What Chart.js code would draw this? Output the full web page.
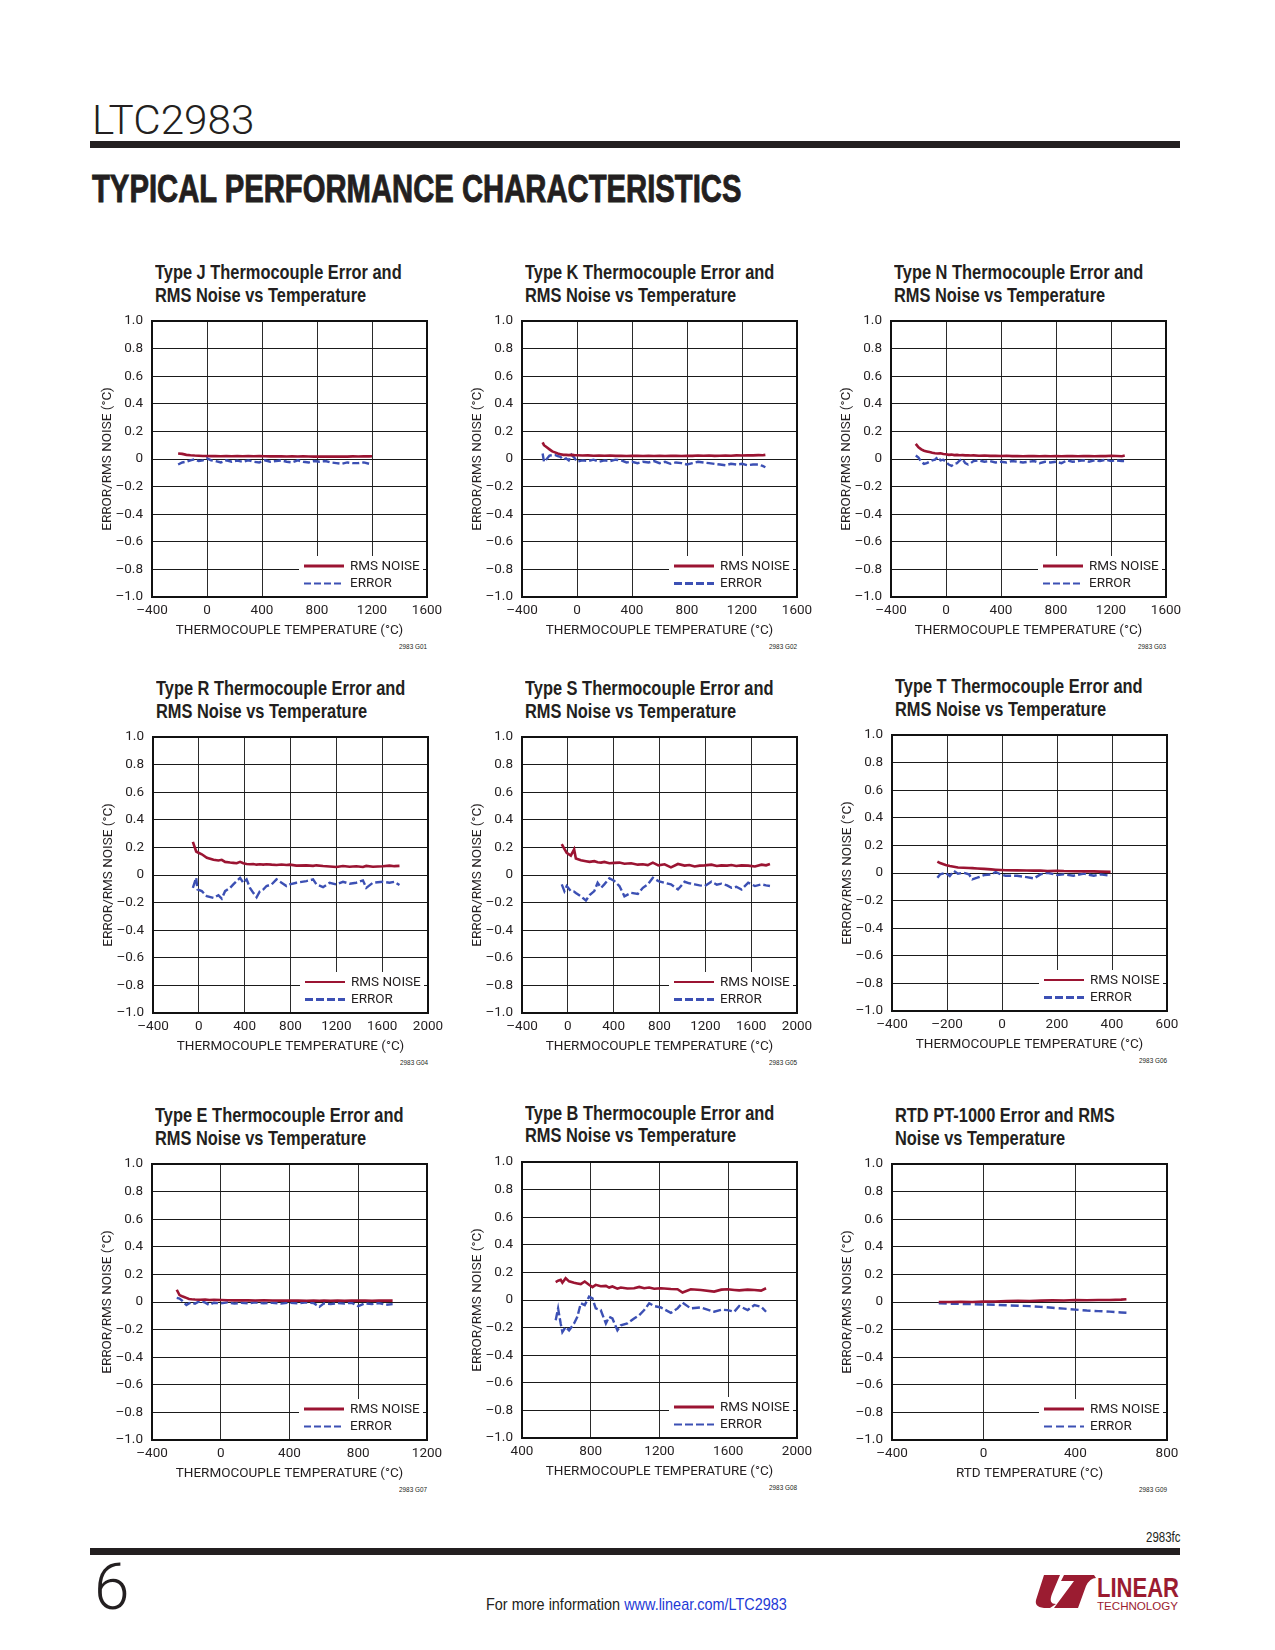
<!DOCTYPE html>
<html>
<head>
<meta charset="utf-8">
<script src="https://cdn.jsdelivr.net/npm/chart.js@4.4.1/dist/chart.umd.min.js"></script>
<style>
  body { margin: 0; background: #fff; }
  #page {
    position: relative; width: 1275px; height: 1650px; overflow: hidden;
    font-family: "Liberation Sans", Arial, sans-serif;
    color: #231f20;
  }
  .abs { position: absolute; white-space: nowrap; transform-origin: 0 0; }
  .ttl { font-weight: bold; font-size: 20px; line-height: 22.4px; transform: scaleX(0.82); }
  .fig { font-size: 7.5px; line-height: 8px; transform: scaleX(0.85); }
  canvas { position: absolute; }
</style>
</head>
<body>
<div id="page">
  <div class="abs" style="left:92px;top:100px;font-family:Roboto,'Liberation Sans',sans-serif;font-weight:300;font-size:41px;line-height:41px;transform:scaleX(1.03);">LTC2983</div>
  <div class="abs" style="left:90px;top:141px;width:1090px;height:7px;background:#231f20;"></div>
  <div class="abs" style="left:92px;top:169px;font-size:39px;line-height:39px;font-weight:bold;-webkit-text-stroke:0.9px #231f20;transform:scaleX(0.75);">TYPICAL PERFORMANCE CHARACTERISTICS</div>

  <div class="abs" style="left:1146px;top:1529px;font-size:14px;line-height:16px;transform:scaleX(0.82);">2983fc</div>
  <div class="abs" style="left:90px;top:1548px;width:1090px;height:7px;background:#231f20;"></div>
  <div class="abs" style="left:94px;top:1556px;font-family:Roboto,'Liberation Sans',sans-serif;font-weight:300;font-size:64px;line-height:64px;">6</div>
  <div class="abs" style="left:486px;top:1595px;font-size:17px;line-height:20px;transform:scaleX(0.85);">For more information <span style="color:#1f3ad6;">www.linear.com/LTC2983</span></div>
  <svg class="abs" style="left:1030px;top:1572px;" width="152" height="42" viewBox="0 0 152 42">
    <path d="M14 3 L30 3 L22 22 Q18 32 26 32 L20 36 Q4 37 6 28 Z" fill="#9b1c31"/>
    <path d="M24 36 L48 36 L56 14 Q60 6 66 6 L64 3 L34 3 L31 9 L44 9 Z" fill="#9b1c31"/>
    <text x="67" y="25" font-family="Liberation Sans, sans-serif" font-size="28" font-weight="bold" fill="#9b1c31" textLength="82" lengthAdjust="spacingAndGlyphs">LINEAR</text>
    <text x="67" y="38" font-family="Liberation Sans, sans-serif" font-size="11" fill="#9b1c31" textLength="81" lengthAdjust="spacingAndGlyphs">TECHNOLOGY</text>
  </svg>
</div>

<script>
// ---- shared tick labels ----
const yTickLabels = ['–1.0', '–0.8', '–0.6', '–0.4', '–0.2', '0', '0.2', '0.4', '0.6', '0.8', '1.0'];
const xTicksJKN = ['–400', '0', '400', '800', '1200', '1600'];
const xTicksRS  = ['–400', '0', '400', '800', '1200', '1600', '2000'];
const xTicksT   = ['–400', '–200', '0', '200', '400', '600'];
const xTicksE   = ['–400', '0', '400', '800', '1200'];
const xTicksB   = ['400', '800', '1200', '1600', '2000'];
const xTicksRTD = ['–400', '0', '400', '800'];

// ---- Type J ----
const tempJ  = [-210, -180, -150, -120, -90, -60, -30, 0, 30, 60, 100, 140, 180, 220, 260, 300, 340, 380, 420, 460,
                500, 540, 580, 620, 660, 700, 740, 780, 820, 860, 900, 940, 980, 1020, 1060, 1100, 1140, 1180, 1200];
const noiseJ = [0.04, 0.037, 0.03, 0.027, 0.025, 0.024, 0.022, 0.022, 0.021, 0.022, 0.02, 0.021, 0.02, 0.021, 0.02, 0.022, 0.02, 0.021, 0.02, 0.019,
                0.02, 0.019, 0.018, 0.019, 0.018, 0.019, 0.018, 0.017, 0.018, 0.017, 0.018, 0.017, 0.018, 0.017, 0.019, 0.018, 0.02, 0.019, 0.02];
const errorJ = [-0.04, -0.025, -0.02, -0.01, -0.002, -0.015, -0.01, 0.005, -0.01, -0.015, -0.025, -0.01, -0.02, -0.012, -0.02, -0.01, -0.02, -0.025, -0.01, -0.02,
                -0.015, -0.01, -0.02, -0.025, -0.01, -0.02, -0.025, -0.015, -0.02, -0.015, -0.025, -0.03, -0.035, -0.025, -0.03, -0.03, -0.025, -0.035, -0.035];

// ---- Type K ----
const tempK  = [-250, -240, -220, -200, -180, -160, -140, -120, -100, -80, -60, -40, -20, 0, 40, 80, 120, 160, 200, 240,
                280, 320, 360, 400, 440, 480, 520, 560, 600, 640, 680, 720, 760, 800, 840, 880, 920, 960, 1000, 1040,
                1080, 1120, 1160, 1200, 1240, 1280, 1320, 1350, 1370];
const noiseK = [0.12, 0.10, 0.085, 0.07, 0.055, 0.048, 0.04, 0.035, 0.03, 0.03, 0.028, 0.03, 0.028, 0.027, 0.025, 0.026, 0.024, 0.025, 0.024, 0.025,
                0.023, 0.024, 0.022, 0.023, 0.024, 0.022, 0.023, 0.022, 0.024, 0.022, 0.023, 0.024, 0.022, 0.024, 0.023, 0.025, 0.024, 0.025, 0.023, 0.024,
                0.025, 0.024, 0.026, 0.025, 0.027, 0.026, 0.028, 0.027, 0.03];
const errorK = [0.04, -0.02, 0.0, 0.025, 0.028, 0.03, 0.02, 0.015, -0.005, 0.005, -0.01, 0.03, 0.01, -0.02, -0.01, -0.015, -0.005, -0.02, -0.01, -0.015,
                -0.005, -0.01, -0.025, -0.02, -0.03, -0.02, -0.025, -0.015, -0.03, -0.02, -0.035, -0.025, -0.03, -0.04, -0.03, -0.02, -0.025, -0.03, -0.035, -0.04,
                -0.045, -0.035, -0.04, -0.035, -0.045, -0.04, -0.04, -0.05, -0.06];

// ---- Type N ----
const tempN  = [-220, -200, -180, -160, -140, -120, -100, -80, -60, -40, -20, 0, 20, 40, 60, 80, 100, 120, 140, 160,
                180, 200, 240, 280, 320, 360, 400, 440, 480, 520, 560, 600, 640, 680, 720, 760, 800, 840, 880, 920,
                960, 1000, 1040, 1080, 1120, 1160, 1200, 1240, 1280, 1300];
const noiseN = [0.11, 0.085, 0.07, 0.06, 0.055, 0.05, 0.045, 0.042, 0.04, 0.042, 0.036, 0.035, 0.03, 0.032, 0.028, 0.03, 0.027, 0.028, 0.026, 0.027,
                0.025, 0.026, 0.024, 0.025, 0.023, 0.024, 0.022, 0.023, 0.021, 0.022, 0.02, 0.022, 0.021, 0.02, 0.022, 0.02, 0.021, 0.02, 0.022, 0.021,
                0.02, 0.022, 0.021, 0.02, 0.022, 0.021, 0.023, 0.022, 0.02, 0.025];
const errorN = [0.025, 0.01, -0.02, -0.035, -0.03, -0.02, -0.01, -0.005, 0.015, -0.01, -0.005, -0.02, -0.04, -0.05, -0.035, -0.03, -0.01, 0.0, -0.03, -0.04,
                -0.03, -0.015, -0.01, -0.02, -0.015, -0.025, -0.02, -0.025, -0.015, -0.02, -0.025, -0.02, -0.015, -0.03, -0.02, -0.025, -0.02, -0.03, -0.01, -0.02,
                -0.015, -0.01, -0.02, -0.01, -0.015, -0.005, -0.015, -0.01, -0.015, -0.015];

// ---- Type R ----
const tempR  = [-52, -23, -12, 26, 70, 128, 171, 200, 229, 273, 301, 330, 360, 388, 417, 446, 475, 504, 533, 562,
                591, 635, 678, 722, 765, 794, 852, 939, 997, 1026, 1084, 1142, 1200, 1258, 1316, 1374, 1432, 1461, 1519, 1606,
                1664, 1707, 1751];
const noiseR = [0.24, 0.17, 0.165, 0.15, 0.125, 0.11, 0.105, 0.11, 0.095, 0.09, 0.088, 0.085, 0.095, 0.085, 0.08, 0.078, 0.08, 0.075, 0.078, 0.075,
                0.078, 0.075, 0.073, 0.076, 0.072, 0.075, 0.068, 0.07, 0.066, 0.07, 0.065, 0.062, 0.058, 0.065, 0.06, 0.063, 0.058, 0.066, 0.06, 0.063,
                0.068, 0.064, 0.066];
const errorR = [-0.093, -0.02, -0.105, -0.117, -0.154, -0.166, -0.146, -0.171, -0.117, -0.093, -0.068, -0.044, -0.02, -0.056, -0.032, -0.093, -0.129, -0.161, -0.117, -0.105,
                -0.08, -0.068, -0.032, -0.056, -0.08, -0.068, -0.056, -0.044, -0.032, -0.068, -0.088, -0.056, -0.068, -0.049, -0.063, -0.056, -0.039, -0.093, -0.056, -0.049,
                -0.056, -0.049, -0.073];

// ---- Type S ----
const tempS  = [-53, -30, -10, 26, 55, 70, 114, 158, 190, 231, 260, 290, 318, 362, 406, 450, 494, 552, 611, 655,
                698, 742, 790, 844, 900, 961, 1019, 1060, 1107, 1150, 1194, 1253, 1300, 1340, 1390, 1428, 1470, 1516, 1574, 1633,
                1691, 1730, 1764];
const noiseS = [0.224, 0.19, 0.16, 0.14, 0.185, 0.12, 0.107, 0.1, 0.095, 0.1, 0.092, 0.09, 0.095, 0.085, 0.088, 0.09, 0.082, 0.085, 0.075, 0.078,
                0.072, 0.09, 0.07, 0.078, 0.055, 0.08, 0.068, 0.072, 0.062, 0.068, 0.07, 0.075, 0.065, 0.07, 0.068, 0.072, 0.065, 0.07, 0.068, 0.062,
                0.075, 0.07, 0.08];
const errorS = [-0.068, -0.117, -0.08, -0.117, -0.12, -0.13, -0.154, -0.185, -0.146, -0.117, -0.056, -0.093, -0.068, -0.024, -0.044, -0.08, -0.154, -0.129, -0.137, -0.093,
                -0.068, -0.02, -0.044, -0.056, -0.068, -0.105, -0.049, -0.06, -0.068, -0.075, -0.08, -0.049, -0.07, -0.063, -0.075, -0.093, -0.085, -0.105, -0.056, -0.08,
                -0.068, -0.075, -0.08];

// ---- Type T ----
const tempT  = [-235, -225, -205, -190, -175, -160, -140, -120, -108, -90, -65, -40, -23, -5, 13, 55, 90, 116, 140, 165,
                200, 225, 260, 298, 334, 358, 395];
const noiseT = [0.083, 0.072, 0.058, 0.05, 0.045, 0.04, 0.038, 0.036, 0.035, 0.033, 0.03, 0.026, 0.024, 0.022, 0.02, 0.019, 0.018, 0.017, 0.018, 0.015,
                0.016, 0.014, 0.013, 0.012, 0.012, 0.01, 0.008];
const errorT = [-0.034, -0.01, 0.002, -0.022, 0.015, -0.005, 0.002, -0.01, -0.046, -0.034, -0.015, -0.01, 0.007, -0.01, -0.02, -0.02, -0.03, -0.039, -0.01, 0.002,
                -0.015, -0.01, -0.02, -0.005, -0.02, -0.01, -0.02];

// ---- Type E ----
const tempE  = [-256, -240, -225, -210, -200, -185, -170, -150, -120, -90, -66, -40, 0, 40, 80, 120, 160, 200, 250, 300,
                350, 400, 450, 500, 540, 574, 600, 640, 680, 720, 760, 800, 840, 880, 920, 960, 1000];
const noiseE = [0.089, 0.05, 0.042, 0.035, 0.03, 0.022, 0.02, 0.018, 0.016, 0.017, 0.015, 0.016, 0.014, 0.013, 0.012, 0.013, 0.012, 0.011, 0.012, 0.011,
                0.01, 0.011, 0.01, 0.009, 0.01, 0.009, 0.01, 0.009, 0.01, 0.009, 0.01, 0.011, 0.01, 0.009, 0.01, 0.011, 0.01];
const errorE = [0.03, 0.025, 0.01, -0.01, -0.022, -0.01, -0.003, -0.012, 0.008, -0.005, -0.022, -0.005, -0.01, -0.003, -0.012, -0.005, -0.01, -0.003, -0.01, -0.005,
                -0.012, -0.005, -0.01, -0.003, -0.008, -0.035, -0.01, -0.015, -0.008, -0.012, -0.005, -0.03, -0.01, -0.015, -0.008, -0.02, -0.015];

// ---- Type B ----
const tempB  = [596, 610, 625, 635, 654, 674, 703, 722, 742, 765, 790, 810, 829, 858, 888, 907, 926, 955, 975, 1013,
                1052, 1082, 1111, 1140, 1169, 1208, 1266, 1305, 1334, 1382, 1441, 1518, 1560, 1596, 1635, 1664, 1713, 1752, 1791, 1820];
const noiseB = [0.13, 0.14, 0.146, 0.125, 0.158, 0.135, 0.125, 0.12, 0.115, 0.134, 0.11, 0.093, 0.11, 0.1, 0.102, 0.09, 0.098, 0.082, 0.09, 0.083,
                0.085, 0.095, 0.085, 0.09, 0.082, 0.085, 0.08, 0.078, 0.054, 0.078, 0.072, 0.061, 0.075, 0.078, 0.073, 0.07, 0.075, 0.073, 0.068, 0.085];
const errorB = [-0.146, -0.061, -0.17, -0.232, -0.195, -0.22, -0.17, -0.122, -0.024, -0.037, 0.024, 0.012, -0.061, -0.073, -0.17, -0.122, -0.134, -0.22, -0.183, -0.17,
                -0.134, -0.11, -0.073, -0.024, -0.044, -0.054, -0.093, -0.061, -0.02, -0.061, -0.054, -0.085, -0.07, -0.073, -0.085, -0.044, -0.073, -0.037, -0.049, -0.085];

// ---- RTD PT-1000 ----
const tempRTD  = [-196, -150, -100, -50, 0, 50, 100, 150, 200, 250, 300, 350, 400, 450, 500, 550, 600, 623];
const noiseRTD = [0.0, 0.0, 0.002, 0.0, 0.003, 0.004, 0.006, 0.008, 0.007, 0.01, 0.012, 0.011, 0.014, 0.013, 0.015, 0.014, 0.017, 0.02];
const errorRTD = [-0.01, -0.012, -0.014, -0.016, -0.018, -0.02, -0.024, -0.027, -0.03, -0.035, -0.042, -0.048, -0.055, -0.062, -0.066, -0.07, -0.076, -0.078];

const RED  = '#9b1432';
const BLUE = '#3c50b4';
const INK  = '#231f20';
const FONT = 'Roboto, "Liberation Sans", sans-serif';
const FSIZE = 13.5;
const TC_TITLE = 'THERMOCOUPLE TEMPERATURE (°C)';
const PLOT = 275;

const panels = [
  { fig: '2983 G01', title: ['Type J Thermocouple Error and', 'RMS Noise vs Temperature'], xTitle: TC_TITLE,
    temp: tempJ, noise: noiseJ, error: errorJ, x: [-400, 1600, 400], xTicks: xTicksJKN,
    left: 152, top: 321, redW: 3, blueW: 2, dash: [7, 3] },
  { fig: '2983 G02', title: ['Type K Thermocouple Error and', 'RMS Noise vs Temperature'], xTitle: TC_TITLE,
    temp: tempK, noise: noiseK, error: errorK, x: [-400, 1600, 400], xTicks: xTicksJKN,
    left: 521.5, top: 321, redW: 3, blueW: 3, dash: [8, 3] },
  { fig: '2983 G03', title: ['Type N Thermocouple Error and', 'RMS Noise vs Temperature'], xTitle: TC_TITLE,
    temp: tempN, noise: noiseN, error: errorN, x: [-400, 1600, 400], xTicks: xTicksJKN,
    left: 890.5, top: 321, redW: 3, blueW: 2, dash: [7, 3] },
  { fig: '2983 G04', title: ['Type R Thermocouple Error and', 'RMS Noise vs Temperature'], xTitle: TC_TITLE,
    temp: tempR, noise: noiseR, error: errorR, x: [-400, 2000, 400], xTicks: xTicksRS,
    left: 152.5, top: 737, redW: 2, blueW: 3, dash: [8, 3] },
  { fig: '2983 G05', title: ['Type S Thermocouple Error and', 'RMS Noise vs Temperature'], xTitle: TC_TITLE,
    temp: tempS, noise: noiseS, error: errorS, x: [-400, 2000, 400], xTicks: xTicksRS,
    left: 521.5, top: 737, redW: 2, blueW: 3, dash: [8, 3] },
  { fig: '2983 G06', title: ['Type T Thermocouple Error and', 'RMS Noise vs Temperature'], xTitle: TC_TITLE,
    temp: tempT, noise: noiseT, error: errorT, x: [-400, 600, 200], xTicks: xTicksT,
    left: 891.5, top: 735, redW: 2, blueW: 3, dash: [8, 3] },
  { fig: '2983 G07', title: ['Type E Thermocouple Error and', 'RMS Noise vs Temperature'], xTitle: TC_TITLE,
    temp: tempE, noise: noiseE, error: errorE, x: [-400, 1200, 400], xTicks: xTicksE,
    left: 152, top: 1164, redW: 3, blueW: 2, dash: [7, 3] },
  { fig: '2983 G08', title: ['Type B Thermocouple Error and', 'RMS Noise vs Temperature'], xTitle: TC_TITLE,
    temp: tempB, noise: noiseB, error: errorB, x: [400, 2000, 400], xTicks: xTicksB,
    left: 521.5, top: 1161.5, redW: 3, blueW: 2, dash: [8, 3] },
  { fig: '2983 G09', title: ['RTD PT-1000 Error and RMS', 'Noise vs Temperature'], xTitle: 'RTD TEMPERATURE (°C)',
    temp: tempRTD, noise: noiseRTD, error: errorRTD, x: [-400, 800, 400], xTicks: xTicksRTD,
    left: 891.5, top: 1164, redW: 3, blueW: 2, dash: [8, 4] },
];

// inset legend (white box over the grid) + plot frame
const panelDecor = {
  id: 'panelDecor',
  afterDatasetsDraw(chart, args, opts) {
    const { ctx, chartArea: a } = chart;
    const ds = chart.data.datasets;
    ctx.save();
    ctx.fillStyle = '#fff';
    ctx.fillRect(a.right - 128, a.bottom - 41, 124, 41);
    const rows = [
      { label: ds[0].label, color: RED, w: opts.redW, dash: [], y: a.bottom - 31 },
      { label: ds[1].label, color: BLUE, w: opts.blueW, dash: opts.dash, y: a.bottom - 13.5 },
    ];
    ctx.font = FSIZE + 'px ' + FONT;
    ctx.textBaseline = 'middle';
    for (const r of rows) {
      ctx.strokeStyle = r.color;
      ctx.lineWidth = r.w;
      ctx.setLineDash(r.dash);
      ctx.beginPath();
      ctx.moveTo(a.right - 123, r.y);
      ctx.lineTo(a.right - 83, r.y);
      ctx.stroke();
      ctx.setLineDash([]);
      ctx.fillStyle = INK;
      ctx.fillText(r.label, a.right - 77, r.y + 0.5);
    }
    ctx.strokeStyle = '#111';
    ctx.lineWidth = 2;
    ctx.strokeRect(a.left, a.top, a.width, a.height);
    ctx.restore();
  }
};

// fixed axis boxes, no label overflow padding, so the plot area lands where the page expects it
function fixAxis(size) {
  return s => {
    if (s.isHorizontal()) s.height = size; else s.width = size;
    s.paddingLeft = s.paddingRight = s.paddingTop = s.paddingBottom = 0;
  };
}

function addText(cls, text, style) {
  const d = document.createElement('div');
  d.className = 'abs ' + cls;
  d.innerHTML = text;
  Object.assign(d.style, style);
  document.getElementById('page').appendChild(d);
}

function renderPanel(p) {
  addText('ttl', p.title.join('<br>'), { left: (p.left + 3) + 'px', top: (p.top - 59.7) + 'px' });
  addText('fig', p.fig, { left: (p.left + PLOT - 28) + 'px', top: (p.top + PLOT + 47) + 'px' });

  const canvas = document.createElement('canvas');
  canvas.width = 360;
  canvas.height = 330;
  canvas.style.left = (p.left - 60) + 'px';
  canvas.style.top = (p.top - 12) + 'px';
  document.getElementById('page').appendChild(canvas);

  const tickFont = { family: FONT, size: FSIZE };
  new Chart(canvas, {
    type: 'line',
    data: {
      datasets: [
        {
          label: 'RMS NOISE',
          data: p.temp.map((t, i) => ({ x: t, y: p.noise[i] })),
          borderColor: RED, borderWidth: 2.6, pointRadius: 0, tension: 0,
        },
        {
          label: 'ERROR',
          data: p.temp.map((t, i) => ({ x: t, y: p.error[i] })),
          borderColor: BLUE, borderWidth: 2.4, borderDash: p.dash, pointRadius: 0, tension: 0,
        }
      ]
    },
    options: {
      responsive: false,
      animation: false,
      layout: { padding: { left: 4, top: 12, right: 25, bottom: 0 } },
      plugins: {
        legend: { display: false },
        tooltip: { enabled: false },
        panelDecor: { redW: p.redW, blueW: p.blueW, dash: p.dash },
      },
      scales: {
        x: {
          type: 'linear', min: p.x[0], max: p.x[1],
          ticks: { stepSize: p.x[2], autoSkip: false, maxRotation: 0, padding: 6, color: INK, font: tickFont,
                   callback: (v, i) => p.xTicks[i] },
          grid: { color: '#2b2b2b', lineWidth: 1, drawTicks: false },
          border: { display: false },
          title: { display: true, text: p.xTitle, color: INK, font: tickFont, padding: 0 },
          afterFit: fixAxis(42),
        },
        y: {
          min: -1, max: 1,
          ticks: { stepSize: 0.2, autoSkip: false, padding: 9, color: INK, font: tickFont,
                   callback: (v, i) => yTickLabels[i] },
          grid: { color: '#1a1a1a', lineWidth: 1, drawTicks: false },
          border: { display: false },
          title: { display: true, text: 'ERROR/RMS NOISE (°C)', color: INK, font: tickFont, padding: { top: 4, bottom: 0 } },
          afterFit: fixAxis(56),
        }
      }
    },
    plugins: [panelDecor]
  });
}

panels.forEach(renderPanel);
</script>
</body>
</html>
